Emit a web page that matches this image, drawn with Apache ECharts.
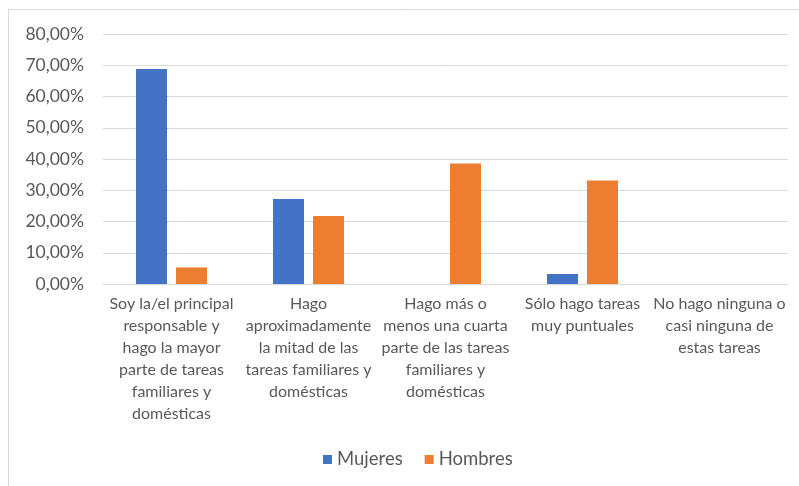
<!DOCTYPE html>
<html><head><meta charset="utf-8">
<script src="https://cdn.jsdelivr.net/npm/echarts@6/dist/echarts.min.js"></script>
<style>html,body{margin:0;padding:0;background:#fff}#c{width:799px;height:486px}</style>
</head><body><div id="c"></div>
<script>
const categories = [
  "Soy la/el principal\nresponsable y\nhago la mayor\nparte de tareas\nfamiliares y\ndomésticas",
  "Hago\naproximadamente\nla mitad de las\ntareas familiares y\ndomésticas",
  "Hago más o\nmenos una cuarta\nparte de las tareas\nfamiliares y\ndomésticas",
  "Sólo hago tareas\nmuy puntuales",
  "No hago ninguna o\ncasi ninguna de\nestas tareas"
];
const mujeres = [0.688, 0.272, 0, 0.032, 0];
const hombres = [0.053, 0.218, 0.386, 0.331, 0];
const yTicks = [0, 0.1, 0.2, 0.3, 0.4, 0.5, 0.6, 0.7, 0.8];

const FONT = 'Lato';
const chart = echarts.init(document.getElementById('c'), null, {renderer: 'canvas'});
const fmt = v => (v*100).toFixed(2).replace('.', ',') + '%';
chart.setOption({
  animation: false,
  textStyle: {fontFamily: FONT},
  graphic: [{type: 'rect', shape: {x: 8.5, y: 9.5, width: 800, height: 490}, style: {fill: 'none', stroke: '#d9d9d9', lineWidth: 1}}],
  grid: {left: 103, right: 11, top: 34, bottom: 202, containLabel: false},
  legend: {
    bottom: 12, left: 318, itemWidth: 9, itemHeight: 9, itemGap: 22, itemStyle: {borderWidth: 0},
    icon: 'rect',
    textStyle: {color: '#595959', fontSize: 18.5, fontFamily: FONT},
    data: ['Mujeres', 'Hombres']
  },
  xAxis: {
    type: 'category', data: categories,
    axisLine: {lineStyle: {color: '#d9d9d9', width: 1}},
    axisTick: {show: false},
    axisLabel: {interval: 0, color: '#595959', fontSize: 16, lineHeight: 22, margin: 9, fontFamily: FONT}
  },
  yAxis: {
    type: 'value', min: 0, max: 0.8, interval: 0.1,
    axisLine: {show: false}, axisTick: {show: false},
    splitLine: {lineStyle: {color: '#d9d9d9', width: 1}},
    axisLabel: {formatter: v => fmt(v), color: '#595959', fontSize: 17.5, margin: 19, fontFamily: FONT}
  },
  series: [
    {name: 'Mujeres', type: 'bar', data: mujeres, barWidth: 31, barGap: '29%', itemStyle: {color: '#4472c4'}},
    {name: 'Hombres', type: 'bar', data: hombres, barWidth: 31, itemStyle: {color: '#ed7d31'}}
  ]
});
</script></body></html>
